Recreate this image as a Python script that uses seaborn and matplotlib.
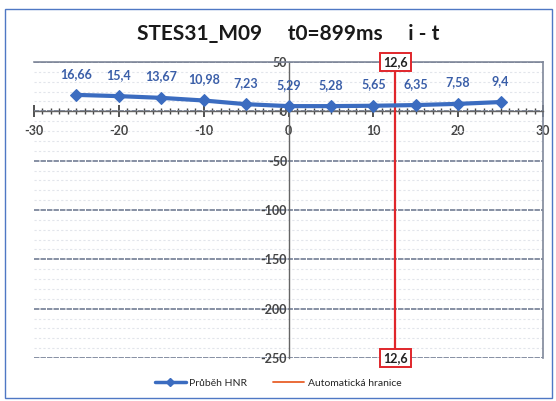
import matplotlib
matplotlib.use("Agg")
import matplotlib.pyplot as plt
from matplotlib.patches import Rectangle
from matplotlib.lines import Line2D
from matplotlib.ticker import MultipleLocator
import seaborn as sns
import pandas as pd

# HNR course over time offset
time_ms = [-25, -20, -15, -10, -5, 0, 5, 10, 15, 20, 25]
hnr = [16.66, 15.4, 13.67, 10.98, 7.23, 5.29, 5.28, 5.65, 6.35, 7.58, 9.4]
boundary = 12.6
title = "STES31_M09     t0=899ms     i - t"
series_name = "Průběh HNR"
boundary_name = "Automatická hranice"

sns.set_style("white")
plt.rcParams["font.family"] = ["Lato", "DejaVu Sans"]
plt.rcParams["axes.unicode_minus"] = False

blue = "#3b6cc0"
red = "#e0262b"
grid_major = "#7d879c"
tick_col = "#444444"

fig = plt.figure(figsize=(5.56, 4.01), dpi=100)
ax = fig.add_axes([34 / 556, 1 - 358 / 401, (543 - 34) / 556, (358 - 62) / 401])

# outer chart frame
fig.patches.append(Rectangle((5 / 556, 3 / 401), 547 / 556, 389 / 401,
                             transform=fig.transFigure, fill=False,
                             edgecolor="#4f78c4", linewidth=1.0))

df = pd.DataFrame({"t": time_ms, "hnr": hnr})
sns.lineplot(data=df, x="t", y="hnr", ax=ax, color=blue, linewidth=3,
             marker="D", markersize=6, markeredgecolor=blue, zorder=5)

ax.set_xlim(-30, 30)
ax.set_ylim(-250, 50)

# axes crossing at zero
ax.spines["left"].set_position(("data", 0))
ax.spines["bottom"].set_position(("data", 0))
for s in ("left", "bottom"):
    ax.spines[s].set_color("#666666")
    ax.spines[s].set_linestyle((0, (2, 1)))
    ax.spines[s].set_linewidth(1.0)
for s in ("top", "right"):
    ax.spines[s].set_color("#7f8799")
    ax.spines[s].set_linewidth(1.2)

# ticks and grid
ax.set_xticks([-30, -20, -10, 0, 10, 20, 30])
ax.set_xticklabels(["-30", "-20", "-10", "0", "10", "20", "30"],
                   fontweight="bold", fontsize=9, color=tick_col)
ax.set_yticks([50, 0, -50, -100, -150, -200, -250])
ax.set_yticklabels(["50", "0", "-50", "-100", "-150", "-200", "-250"],
                   fontweight="bold", fontsize=9, color=tick_col)
ax.yaxis.set_minor_locator(MultipleLocator(10))
ax.xaxis.set_minor_locator(MultipleLocator(1))
ax.grid(which="major", axis="y", color=grid_major, linewidth=1.3, linestyle=(0, (3, 0.6)))
ax.grid(which="minor", axis="y", color="#e2e5eb", linewidth=0.8, linestyle=(0, (2, 2)))
ax.grid(which="both", axis="x", visible=False)

ax.xaxis.set_ticks_position("bottom")
ax.tick_params(axis="x", which="major", bottom=True, direction="inout",
               length=8, width=1.2, color="#333333", pad=6)
ax.tick_params(axis="x", which="minor", bottom=True, direction="inout",
               length=5, width=1.0, color="#444444")
ax.tick_params(axis="y", which="both", left=False, length=0, pad=1)
for tk in ax.xaxis.get_major_ticks() + ax.xaxis.get_minor_ticks():
    tk.tick1line.set_visible(True)
    tk.tick1line.set_zorder(4)
for lbl in ax.get_yticklabels():
    lbl.set_zorder(6)
ax.set_xlabel("")
ax.set_ylabel("")

# value labels above each point
for t, v in zip(time_ms, hnr):
    ax.annotate(f"{v:g}".replace(".", ","), (t, v), xytext=(0, 11),
                textcoords="offset points", ha="center", va="bottom",
                fontsize=9, fontweight="bold", color="#3a5ea8")

# automatic boundary
ax.axvline(boundary, color=red, linewidth=1.6, zorder=4)
bbox = dict(boxstyle="square,pad=0.25", facecolor="white", edgecolor=red, linewidth=1.4)
for yv in (50, -250):
    ax.text(boundary, yv, f"{boundary:g}".replace(".", ","), ha="center", va="center",
            fontsize=9, fontweight="bold", color="#222222", bbox=bbox, zorder=7,
            clip_on=False)

ax.set_title(title, fontsize=15, fontweight="bold", color="#1a1a1a", pad=16)

handles = [Line2D([0], [0], color=blue, linewidth=2.5, marker="D", markersize=4),
           Line2D([0], [0], color="#e8602a", linewidth=1.3)]
fig.legend(handles, [series_name, boundary_name], loc="center",
           bbox_to_anchor=(0.5, 1 - 383 / 401), ncol=2, frameon=False,
           fontsize=7.5, handlelength=3, columnspacing=2.5, handletextpad=0.3)

fig.savefig("out.png", dpi=100)
